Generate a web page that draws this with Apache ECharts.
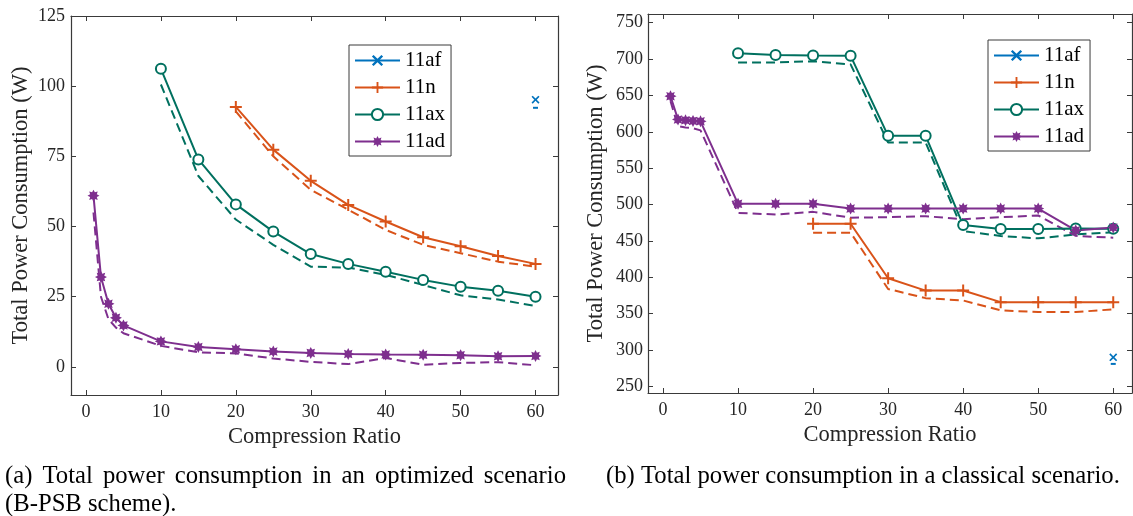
<!DOCTYPE html>
<html>
<head>
<meta charset="utf-8">
<script src="https://cdn.jsdelivr.net/npm/echarts@6/dist/echarts.min.js"></script>
<style>
  html, body { margin: 0; padding: 0; background: #fff; }
  #chart { width: 1133px; height: 516px; }
</style>
</head>
<body>
<div id="chart"></div>
<script>
// compression ratios per standard
var xAd = [1, 2, 3, 4, 5, 10, 15, 20, 25, 30, 35, 40, 45, 50, 55, 60];
var xAx = [10, 15, 20, 25, 30, 35, 40, 45, 50, 55, 60];
var xN  = [20, 25, 30, 35, 40, 45, 50, 55, 60];
var xAf = [60];

// (a) optimized scenario, solid and dashed curves (W)
var optAdSolid = [61, 32, 22.5, 17.5, 14.8, 9.1, 7.1, 6.3, 5.5, 5.0, 4.6, 4.4, 4.3, 4.2, 3.8, 3.9];
var optAdDash  = [55, 25, 17, 14, 12, 7.5, 5.2, 4.8, 3.0, 1.8, 1.0, 3.2, 0.8, 1.4, 1.7, 0.6];
var optAxSolid = [106.2, 73.9, 57.9, 48.2, 40.2, 36.7, 33.9, 31.0, 28.6, 27.1, 25.0];
var optAxDash  = [100.6, 68, 52.5, 43.5, 35.7, 35.4, 32.8, 29.2, 25.5, 24, 21.7];
var optNSolid  = [92.6, 77.4, 66.3, 57.7, 51.8, 46.2, 43.0, 39.5, 36.7];
var optNDash   = [91, 75, 63.1, 56, 48.8, 43.5, 40.5, 37.5, 35.7];
var optAfSolid = [95.2];
var optAfDash  = [92.3];

// (b) classical scenario (W)
var clsAdSolid = [649, 617, 616, 615, 614.5, 501, 501, 501, 494.5, 494.5, 494.5, 494.5, 494.5, 494.5, 464.5, 468.5];
var clsAdDash  = [642, 608, 606, 605, 602, 488.6, 486.4, 490, 482, 482.7, 484, 480, 482.7, 485, 457, 454.5];
var clsAxSolid = [708, 705.8, 705, 704.5, 594.5, 594.5, 471.8, 466.4, 466.4, 467, 466.8];
var clsAxDash  = [695.5, 695.5, 697, 692.7, 585.4, 585.4, 463.6, 456.8, 453.6, 459, 462];
var clsNSolid  = [473.6, 473.6, 398.7, 381.8, 381.8, 365.9, 365.9, 365.9, 365.9];
var clsNDash   = [461.4, 461.4, 384, 371.4, 368.2, 354.6, 352.3, 352.3, 356];
var clsAfSolid = [290];
var clsAfDash  = [281];

var xTicks = [0, 10, 20, 30, 40, 50, 60];
var yTicksA = [0, 25, 50, 75, 100, 125];
var yTicksB = [250, 300, 350, 400, 450, 500, 550, 600, 650, 700, 750];
var names = ['11af', '11n', '11ax', '11ad'];

var serif = 'Liberation Serif';
var axisCol = '#3a3a3a';
var colors = { '11af': '#0072BD', '11n': '#D95319', '11ax': '#00705F', '11ad': '#7E2F8E' };

function starPath() {
  var p = [], n = 8, ro = 10, ri = 6;
  for (var i = 0; i < n * 2; i++) {
    var r = i % 2 ? ri : ro;
    var a = Math.PI * i / n - Math.PI / 2;
    p.push((i ? 'L' : 'M') + (10 + r * Math.cos(a)).toFixed(2) + ',' + (10 + r * Math.sin(a)).toFixed(2));
  }
  return 'path://' + p.join('') + 'Z';
}
var symbols = {
  '11af': ['path://M1.5,0L5,3.5L8.5,0L10,1.5L6.5,5L10,8.5L8.5,10L5,6.5L1.5,10L0,8.5L3.5,5L0,1.5Z', 8],
  '11n': ['path://M5,0H7V5H12V7H7V12H5V7H0V5H5Z', 12],
  '11ax': ['emptyCircle', 10],
  '11ad': [starPath(), 12]
};

function pairs(xs, ys) { return xs.map(function (x, i) { return [x, ys[i]]; }); }

function solid(name, xs, ys, g) {
  var c = colors[name];
  return {
    name: name, type: 'line', xAxisIndex: g * 2, yAxisIndex: g * 2,
    data: pairs(xs, ys), symbol: symbols[name][0], symbolSize: symbols[name][1],
    showSymbol: true, showAllSymbol: true, animation: false, z: 3,
    lineStyle: { color: c, width: 2 },
    itemStyle: name === '11ax' ? { color: c, borderColor: c, borderWidth: 1.8 } : { color: c, borderWidth: 0 }
  };
}
function dashed(name, xs, ys, g) {
  var c = colors[name];
  var single = xs.length === 1;
  return {
    name: name + '-dash-' + g, type: 'line', xAxisIndex: g * 2, yAxisIndex: g * 2,
    data: pairs(xs, ys), symbol: single ? 'rect' : 'none', symbolSize: [5, 2],
    animation: false, z: 2, silent: true,
    lineStyle: { color: c, width: 2, type: [9, 5] },
    itemStyle: { color: c }
  };
}

function xAxes(g) {
  var base = { gridIndex: g, type: 'value', min: -2, max: g ? 62.5 : 63, splitLine: { show: false } };
  var line = { show: true, onZero: false, lineStyle: { color: axisCol, width: 1.2 } };
  return [
    Object.assign({}, base, {
      position: 'bottom', axisLine: line,
      axisTick: { inside: true, length: 5, customValues: xTicks, lineStyle: { color: axisCol } },
      axisLabel: { customValues: xTicks, margin: 8, color: '#262626', fontFamily: serif, fontSize: 18 },
      name: 'Compression Ratio', nameLocation: 'middle', nameGap: 31,
      nameTextStyle: { color: '#262626', fontFamily: serif, fontSize: 22.5 }
    }),
    Object.assign({}, base, {
      position: 'top', axisLine: line,
      axisTick: { inside: true, length: 5, customValues: xTicks, lineStyle: { color: axisCol } },
      axisLabel: { show: false }
    })
  ];
}
function yAxes(g, mn, mx, ticks, gap, margin) {
  var base = { gridIndex: g, type: 'value', min: mn, max: mx, splitLine: { show: false } };
  var line = { show: true, onZero: false, lineStyle: { color: axisCol, width: 1.2 } };
  return [
    Object.assign({}, base, {
      position: 'left', axisLine: line,
      axisTick: { inside: true, length: 5, customValues: ticks, lineStyle: { color: axisCol } },
      axisLabel: { customValues: ticks, margin: margin, color: '#262626', fontFamily: serif, fontSize: 18 },
      name: 'Total Power Consumption (W)', nameLocation: 'middle', nameGap: gap,
      nameTextStyle: { color: '#262626', fontFamily: serif, fontSize: 22.5 }
    }),
    Object.assign({}, base, {
      position: 'right', axisLine: line,
      axisTick: { inside: true, length: 5, customValues: ticks, lineStyle: { color: axisCol } },
      axisLabel: { show: false }
    })
  ];
}

function legend(left, top) {
  return {
    data: names, orient: 'vertical', left: left, top: top,
    itemWidth: 45, itemHeight: 14, itemGap: 6, padding: [5, 6, 4, 5],
    backgroundColor: '#fff', borderColor: '#3a3a3a', borderWidth: 1, borderRadius: 0,
    selectedMode: false,
    textStyle: { color: '#000', fontFamily: serif, fontSize: 21, lineHeight: 19 }
  };
}

// justify the first caption line between its two margins
var capSize = 24.7;
var measure = document.createElement('canvas').getContext('2d');
measure.font = capSize + 'px "' + serif + '"';
function justified(text, x0, x1, y) {
  var words = text.split(' ');
  var widths = words.map(function (w) { return measure.measureText(w).width; });
  var total = widths.reduce(function (a, b) { return a + b; }, 0);
  var gap = (x1 - x0 - total) / (words.length - 1);
  var x = x0, out = [];
  words.forEach(function (w, i) {
    out.push(cap(w, x, y));
    x += widths[i] + gap;
  });
  return out;
}
function cap(text, x, y) {
  return { type: 'text', left: x, top: y - 12, silent: true,
    style: { text: text, fill: '#000', fontFamily: serif, fontSize: capSize } };
}

var graphics = justified('(a) Total power consumption in an optimized scenario', 5, 566, 476)
  .concat([cap('(B-PSB scheme).', 5, 504), cap('(b) Total power consumption in a classical scenario.', 606, 476)]);

var series = [
  solid('11af', xAf, optAfSolid, 0), solid('11n', xN, optNSolid, 0),
  solid('11ax', xAx, optAxSolid, 0), solid('11ad', xAd, optAdSolid, 0),
  dashed('11af', xAf, optAfDash, 0), dashed('11n', xN, optNDash, 0),
  dashed('11ax', xAx, optAxDash, 0), dashed('11ad', xAd, optAdDash, 0),
  solid('11af', xAf, clsAfSolid, 1), solid('11n', xN, clsNSolid, 1),
  solid('11ax', xAx, clsAxSolid, 1), solid('11ad', xAd, clsAdSolid, 1),
  dashed('11af', xAf, clsAfDash, 1), dashed('11n', xN, clsNDash, 1),
  dashed('11ax', xAx, clsAxDash, 1), dashed('11ad', xAd, clsAdDash, 1)
];

var chart = echarts.init(document.getElementById('chart'), null, { renderer: 'canvas' });
chart.setOption({
  backgroundColor: '#fff',
  animation: false,
  grid: [
    { left: 71, top: 16, width: 487, height: 379 },
    { left: 648, top: 14, width: 484, height: 379 }
  ],
  xAxis: xAxes(0).concat(xAxes(1)),
  yAxis: yAxes(0, -10, 125, yTicksA, 38, 6).concat(yAxes(1, 241, 762, yTicksB, 40, 5)),
  legend: [legend(349, 45), legend(988, 40)],
  series: series,
  graphic: graphics
});
</script>
</body>
</html>
